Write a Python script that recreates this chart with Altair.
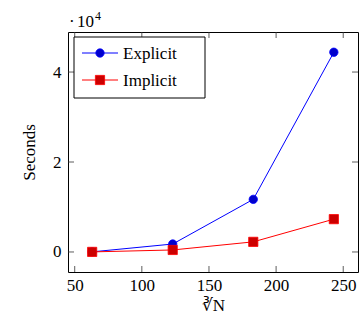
import altair as alt
import pandas as pd

# data
x_vals = [63, 123, 183, 243]
explicit = [30, 1770, 11700, 44400]
implicit = [20, 450, 2250, 7300]
series_names = ["Explicit", "Implicit"]
x_ticks = [50, 100, 150, 200, 250]
y_ticks = [0, 20000, 40000]

rows = []
for n, vals in zip(series_names, [explicit, implicit]):
    for x, v in zip(x_vals, vals):
        rows.append({"series": n, "x": x, "y": v})
df = pd.DataFrame(rows)

FONT = "Liberation Serif, Times New Roman, serif"
FS = 17
W, H = 290, 240
stroke_cols = {"Explicit": "#0000ff", "Implicit": "#ff0000"}
fill_cols = {"Explicit": "#0000cc", "Implicit": "#cc0000"}
shapes = {"Explicit": "circle", "Implicit": "square"}
sizes = {"Explicit": 70, "Implicit": 85}

xs = alt.Scale(domain=[45, 261], nice=False, zero=False)
ys = alt.Scale(domain=[-4450, 48900], nice=False, zero=False)

X = alt.X("x:Q", scale=xs, axis=alt.Axis(values=x_ticks, ticks=False, domain=False, grid=False,
            labelFont=FONT, labelFontSize=FS, labelColor="black", labelPadding=5,
            title="∛N", titleFont=FONT, titleFontSize=FS, titleFontWeight="normal",
            titleColor="black", titlePadding=4))
Y = alt.Y("y:Q", scale=ys, axis=alt.Axis(values=y_ticks, ticks=False, domain=False, grid=False,
            labelExpr="datum.value / 10000", labelFont=FONT, labelFontSize=FS,
            labelColor="black", labelPadding=7,
            title="Seconds", titleFont=FONT, titleFontSize=FS, titleFontWeight="normal",
            titleColor="black", titlePadding=14))

layers = []
for n in series_names:
    sub = df[df.series == n]
    base = alt.Chart(sub)
    layers.append(base.mark_line(color=stroke_cols[n], strokeWidth=1).encode(x=X, y=Y))
    layers.append(base.mark_point(shape=shapes[n], filled=True, fill=fill_cols[n],
                                  stroke=stroke_cols[n], strokeWidth=0.8, opacity=1,
                                  size=sizes[n]).encode(x=X, y=Y))

# inward ticks on all four sides
xt = pd.DataFrame({"x": x_ticks})
yt = pd.DataFrame({"y": y_ticks})
TL = 6
layers.append(alt.Chart(xt).mark_rule(color="#333", strokeWidth=0.8).encode(
    x=alt.X("x:Q", scale=xs), y=alt.value(H), y2=alt.value(H - TL)))
layers.append(alt.Chart(xt).mark_rule(color="#333", strokeWidth=0.8).encode(
    x=alt.X("x:Q", scale=xs), y=alt.value(0), y2=alt.value(TL)))
layers.append(alt.Chart(yt).mark_rule(color="#333", strokeWidth=0.8).encode(
    y=alt.Y("y:Q", scale=ys), x=alt.value(0), x2=alt.value(TL)))
layers.append(alt.Chart(yt).mark_rule(color="#333", strokeWidth=0.8).encode(
    y=alt.Y("y:Q", scale=ys), x=alt.value(W), x2=alt.value(W - TL)))

# legend
one = pd.DataFrame({"a": [0]})
layers.append(alt.Chart(one).mark_rect(fill="white", stroke="black", strokeWidth=1).encode(
    x=alt.value(6), x2=alt.value(137), y=alt.value(5), y2=alt.value(66)))
for i, n in enumerate(series_names):
    yy = 21 + 27 * i
    layers.append(alt.Chart(one).mark_rule(color=stroke_cols[n], strokeWidth=1).encode(
        x=alt.value(14), x2=alt.value(50), y=alt.value(yy)))
    layers.append(alt.Chart(one).mark_point(shape=shapes[n], filled=True, fill=fill_cols[n],
                                            stroke=stroke_cols[n], strokeWidth=0.8, opacity=1,
                                            size=sizes[n]).encode(x=alt.value(32), y=alt.value(yy)))
    layers.append(alt.Chart(pd.DataFrame({"t": [n]})).mark_text(
        align="left", baseline="middle", font=FONT, fontSize=FS, color="black").encode(
        x=alt.value(55), y=alt.value(yy + 1), text="t:N"))

# exponent
layers.append(alt.Chart(pd.DataFrame({"t": ["·"]})).mark_text(
    align="left", baseline="alphabetic", font=FONT, fontSize=FS, color="black").encode(
    x=alt.value(1), y=alt.value(-5), text="t:N"))
layers.append(alt.Chart(pd.DataFrame({"t": ["10"]})).mark_text(
    align="left", baseline="alphabetic", font=FONT, fontSize=FS, color="black").encode(
    x=alt.value(9), y=alt.value(-5), text="t:N"))
layers.append(alt.Chart(pd.DataFrame({"t": ["4"]})).mark_text(
    align="left", baseline="alphabetic", font=FONT, fontSize=12, color="black").encode(
    x=alt.value(27), y=alt.value(-12), text="t:N"))

chart = alt.layer(*layers).properties(
    width=W, height=H,
    autosize=alt.AutoSizeParams(type="none"),
    padding={"left": 68, "top": 32, "right": 2, "bottom": 57},
    background="white",
).configure_view(stroke="black", strokeWidth=1)

chart.save("out.html", embed_options={"renderer": "svg", "actions": False})
